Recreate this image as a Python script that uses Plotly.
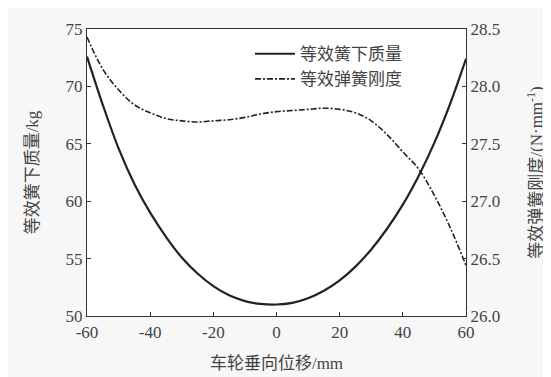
import plotly.graph_objects as go

displacement = [-60, -55, -50, -45, -40, -35, -30, -25, -20, -15, -10, -5, 0, 5, 10, 15, 20, 25, 30, 35, 40, 45, 50, 55, 60]
mass = [72.6, 68.4, 64.6, 61.5, 59.0, 56.9, 55.1, 53.7, 52.6, 51.8, 51.3, 51.05, 51.0, 51.15, 51.55, 52.2, 53.1, 54.3, 55.8, 57.6, 59.7, 62.2, 65.1, 68.5, 72.4]
stiffness = [28.43, 28.15, 27.97, 27.84, 27.77, 27.72, 27.70, 27.69, 27.70, 27.71, 27.73, 27.76, 27.78, 27.79, 27.80, 27.81, 27.80, 27.77, 27.70, 27.58, 27.43, 27.28, 27.05, 26.77, 26.44]

x_ticks = [-60, -40, -20, 0, 20, 40, 60]
x_labels = ["-60", "-40", "-20", "0", "20", "40", "60"]
left_ticks = [50, 55, 60, 65, 70, 75]
right_ticks = [26.0, 26.5, 27.0, 27.5, 28.0, 28.5]
right_labels = ["26.0", "26.5", "27.0", "27.5", "28.0", "28.5"]

FONT = "Liberation Serif, Noto Sans CJK SC, serif"
TXT = "#444444"

fig = go.Figure()
fig.add_trace(go.Scatter(x=displacement, y=mass, mode="lines", name="等效簧下质量",
                         line=dict(color="#222222", width=2.2, shape="spline", smoothing=1.0)))
fig.add_trace(go.Scatter(x=displacement, y=stiffness, mode="lines", name="等效弹簧刚度", yaxis="y2",
                         line=dict(color="#222222", width=1.6, shape="spline", smoothing=1.0,
                                   dash="6px,2px,2px,2px")))

axis_common = dict(showgrid=False, zeroline=False, ticks="inside", ticklen=4, tickcolor="#333",
                   showline=True, linecolor="#333", linewidth=1.2,
                   tickfont=dict(family=FONT, size=17, color=TXT))

fig.update_layout(
    width=551, height=377,
    margin=dict(l=79, r=93, t=18, b=69),
    paper_bgcolor="#f7f7f7", plot_bgcolor="#ffffff",
    font=dict(family=FONT, color=TXT),
    xaxis=dict(range=[-60, 60], tickvals=x_ticks, ticktext=x_labels, mirror=True,
               title=dict(text="车轮垂向位移/mm", font=dict(family=FONT, size=17, color=TXT), standoff=16),
               **axis_common),
    yaxis=dict(range=[50, 75], tickvals=left_ticks,
               title=dict(text="等效簧下质量/kg", font=dict(family=FONT, size=17, color=TXT), standoff=22),
               **axis_common),
    yaxis2=dict(range=[26.0, 28.5], tickvals=right_ticks, ticktext=right_labels, overlaying="y", side="right",
                title=dict(text="等效弹簧刚度/(N·mm<sup>-1</sup>)", font=dict(family=FONT, size=17, color=TXT), standoff=30),
                **axis_common),
    legend=dict(x=0.43, y=0.975, xanchor="left", yanchor="top", bgcolor="rgba(0,0,0,0)",
                font=dict(family=FONT, size=17, color=TXT), tracegroupgap=0, itemwidth=40),
    showlegend=True,
)

fig.write_html("out.html")
